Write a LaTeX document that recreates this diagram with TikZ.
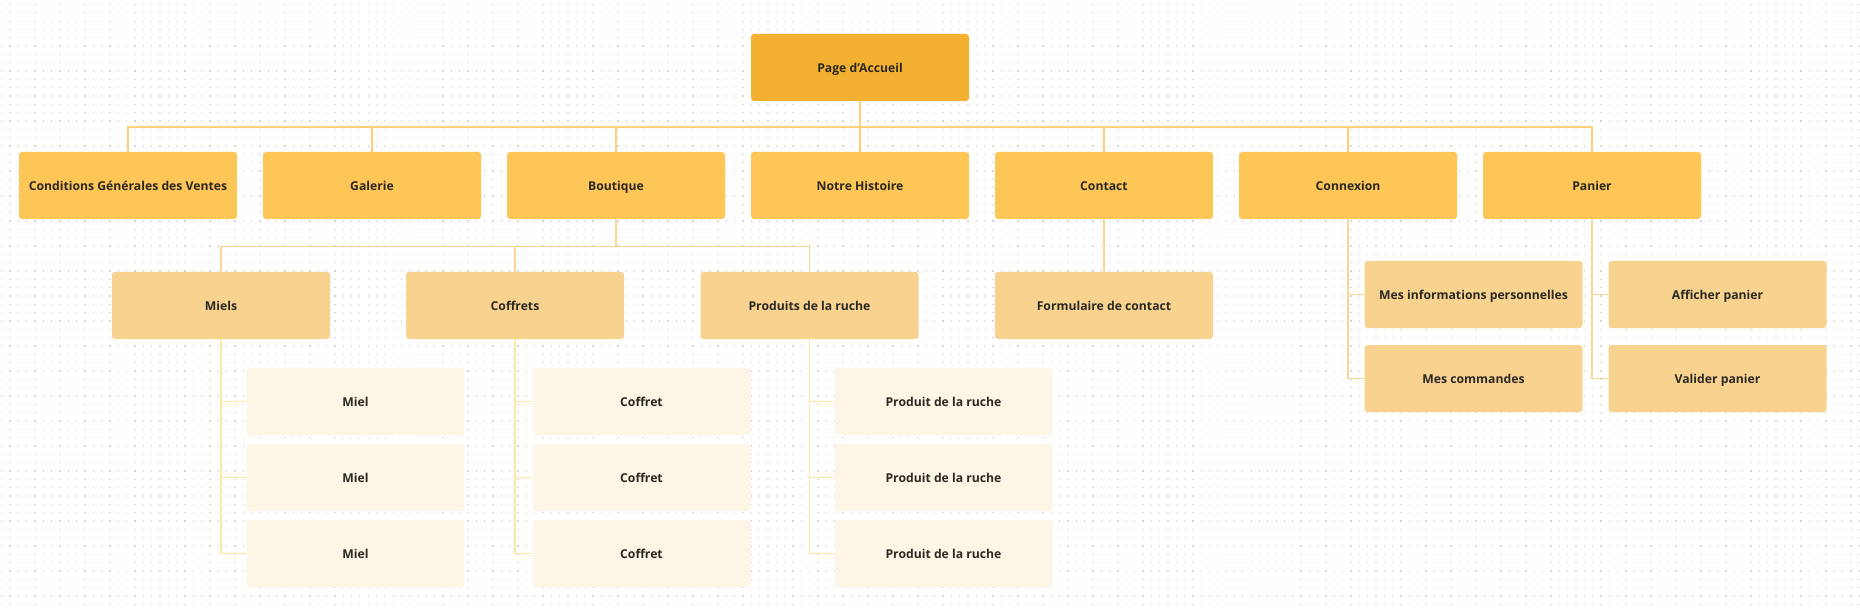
\documentclass[tikz,border=0pt]{standalone}
\usepackage{fontspec}
\setmainfont{Open Sans}
\usetikzlibrary{positioning}
\definecolor{accueil}{HTML}{F4B030}
\definecolor{niveauun}{HTML}{FEC557}
\definecolor{niveaudeux}{HTML}{F8D38F}
\definecolor{niveautrois}{HTML}{FDF6E7}
\definecolor{traitun}{HTML}{FCCF78}
\definecolor{traitdeux}{HTML}{F9D596}
\definecolor{traittrois}{HTML}{FEE8A8}
\definecolor{texte}{HTML}{2B2824}
\definecolor{grille}{HTML}{D6D6D6}

\begin{document}
\begin{tikzpicture}[x=1pt, y=-1pt,
    bloc/.style={rounded corners=3pt, minimum width=218pt, minimum height=67pt, inner sep=0pt,
        text height=10.5pt, text depth=0pt, text=texte, font=\fontsize{12.2}{14}\selectfont\bfseries},
    racine/.style={bloc, fill=accueil},
    rubrique/.style={bloc, fill=niveauun},
    souspage/.style={bloc, fill=niveaudeux},
    fiche/.style={bloc, fill=niveautrois},
    lienun/.style={draw=traitun, line width=1.6pt},
    liendeux/.style={draw=traitdeux, line width=1.6pt},
    lientrois/.style={draw=traittrois, line width=1.8pt},
    pointille/.style={draw=grille, line width=1.3pt, dash pattern=on 1.3pt off 7.03pt, dash phase=-1pt}]
    \fill[white] (0,0) rectangle (1860,612);
    \useasboundingbox (0,0) rectangle (1860,612);
    \foreach \r in {0,...,73}
        \draw[pointille] (0,{4.5+8.33*\r}) -- (1860,{4.5+8.33*\r});

    \node[racine] (accueil) at (860,67.5) {Page d'Accueil};

    \node[rubrique] (cgv) at (128,185.5) {Conditions Générales des Ventes};
    \node[rubrique] (galerie) at (372,185.5) {Galerie};
    \node[rubrique] (boutique) at (616,185.5) {Boutique};
    \node[rubrique] (histoire) at (860,185.5) {Notre Histoire};
    \node[rubrique] (contact) at (1104,185.5) {Contact};
    \node[rubrique] (connexion) at (1348,185.5) {Connexion};
    \node[rubrique] (panier) at (1592,185.5) {Panier};

    \node[souspage] (miels) at (221,305.5) {Miels};
    \node[souspage] (coffrets) at (515,305.5) {Coffrets};
    \node[souspage] (produits) at (809.5,305.5) {Produits de la ruche};
    \node[souspage] (formulaire) at (1104,305.5) {Formulaire de contact};
    \node[souspage] (infos) at (1473.5,294.5) {Mes informations personnelles};
    \node[souspage] (commandes) at (1473.5,378.5) {Mes commandes};
    \node[souspage] (afficher) at (1717.5,294.5) {Afficher panier};
    \node[souspage] (valider) at (1717.5,378.5) {Valider panier};

    \node[fiche] (miela) at (355.5,401.5) {Miel};
    \node[fiche] (mielb) at (355.5,477.5) {Miel};
    \node[fiche] (mielc) at (355.5,553.5) {Miel};
    \node[fiche] (coffreta) at (641.5,401.5) {Coffret};
    \node[fiche] (coffretb) at (641.5,477.5) {Coffret};
    \node[fiche] (coffretc) at (641.5,553.5) {Coffret};
    \node[fiche] (produita) at (943.5,401.5) {Produit de la ruche};
    \node[fiche] (produitb) at (943.5,477.5) {Produit de la ruche};
    \node[fiche] (produitc) at (943.5,553.5) {Produit de la ruche};

    \draw[lienun] (accueil.south) -- ++(0,26) -| (cgv.north);
    \draw[lienun] (accueil.south) -- ++(0,26) -| (galerie.north);
    \draw[lienun] (accueil.south) -- ++(0,26) -| (boutique.north);
    \draw[lienun] (accueil.south) -- (histoire.north);
    \draw[lienun] (accueil.south) -- ++(0,26) -| (contact.north);
    \draw[lienun] (accueil.south) -- ++(0,26) -| (connexion.north);
    \draw[lienun] (accueil.south) -- ++(0,26) -| (panier.north);

    \draw[liendeux] (boutique.south) -- ++(0,27.5) -| (miels.north);
    \draw[liendeux] (boutique.south) -- ++(0,27.5) -| (coffrets.north);
    \draw[liendeux] (boutique.south) -- ++(0,27.5) -| (produits.north);
    \draw[liendeux] (contact.south) -- (formulaire.north);
    \draw[liendeux] (connexion.south) |- (infos.west);
    \draw[liendeux] (connexion.south) |- (commandes.west);
    \draw[liendeux] (panier.south) |- (afficher.west);
    \draw[liendeux] (panier.south) |- (valider.west);

    \draw[lientrois] (miels.south) |- (miela.west);
    \draw[lientrois] (miels.south) |- (mielb.west);
    \draw[lientrois] (miels.south) |- (mielc.west);
    \draw[lientrois] (coffrets.south) |- (coffreta.west);
    \draw[lientrois] (coffrets.south) |- (coffretb.west);
    \draw[lientrois] (coffrets.south) |- (coffretc.west);
    \draw[lientrois] (produits.south) |- (produita.west);
    \draw[lientrois] (produits.south) |- (produitb.west);
    \draw[lientrois] (produits.south) |- (produitc.west);
\end{tikzpicture}
\end{document}
